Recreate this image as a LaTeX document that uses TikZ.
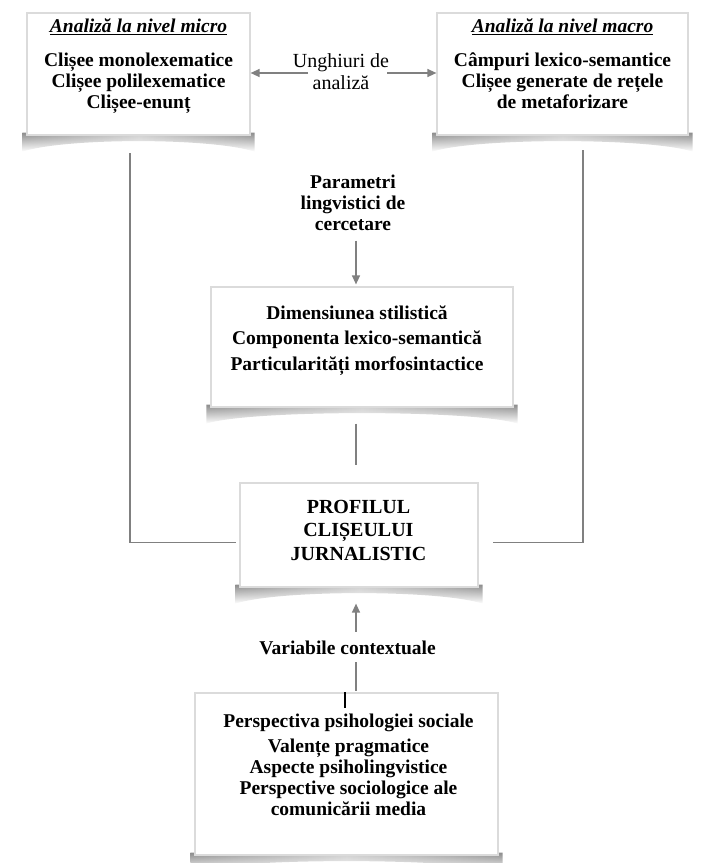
\documentclass[tikz,border=0pt]{standalone}
\usepackage{fontspec}
\setmainfont{Liberation Serif}
\usetikzlibrary{arrows.meta, positioning, calc, backgrounds, fadings}
\definecolor{linegray}{HTML}{808080}

\begin{document}
\begin{tikzpicture}[
    x=1pt, y=-1pt,
    box/.style={rectangle, draw=gray!28, line width=1.2pt, fill=white, inner sep=0pt},
    head/.style={font=\fontsize{19.5}{21}\selectfont\bfseries\itshape, inner sep=0pt},
    item/.style={font=\fontsize{19.5}{21}\selectfont\bfseries, align=center, inner sep=0pt},
    conn/.style={draw=linegray, line width=1.3pt},
    arr/.style={conn, -{Triangle[length=9pt, width=8pt]}},
]
    \useasboundingbox (0,0) rectangle (709,863);
    % Top row: micro / macro analysis
    \node[box, minimum width=223pt, minimum height=122pt] (micro) at (138.5, 74) {};
    \node[head, below=6pt of micro.north] (microhead) {\underline{Analiză la nivel micro}};
    \node[item, below=40pt of micro.north] (microlist) {Clișee monolexematice\\Clișee polilexematice\\Clișee-enunț};
    \node[box, minimum width=251pt, minimum height=122pt] (macro) at (562.5, 74) {};
    \node[head, below=6pt of macro.north] (macrohead) {\underline{Analiză la nivel macro}};
    \node[item, below=40pt of macro.north] (macrolist) {Câmpuri lexico-semantice\\Clișee generate de rețele\\de metaforizare};
    \node[font=\fontsize{20}{22}\selectfont, align=center, inner sep=0pt] (unghi) at (341, 72) {Unghiuri de\\analiză};
    \coordinate (unghiL) at (308, 73);
    \coordinate (unghiR) at (387, 73);
    \draw[arr] (unghiL) -- (micro.east |- unghiL);
    \draw[arr] (unghiR) -- (macro.west |- unghiR);
    % Middle column
    \coordinate (spine) at (356, 0);
    \node[item] (param) at (353, 202.5) {Parametri\\lingvistici de\\cercetare};
    \node[box, minimum width=302pt, minimum height=120pt] (stil) at (362, 347) {};
    \node[item, font=\fontsize{19.5}{25.5}\selectfont\bfseries, below=19pt of stil.north, xshift=-5pt] (stillist) {Dimensiunea stilistică\\Componenta lexico-semantică\\Particularități morfosintactice};
    \node[box, minimum width=238pt, minimum height=104pt] (prof) at (359, 535) {};
    \node[item, font=\fontsize{20}{23.5}\selectfont\bfseries] (proftext) at (358.5, 530) {PROFILUL\\CLIȘEULUI\\JURNALISTIC};
    \node[item] (var) at (347.5, 648) {Variabile contextuale};
    \node[box, minimum width=303pt, minimum height=162pt] (persp) at (346.5, 774) {};
    \node[item, below=21pt of persp.north, xshift=2pt] (persptext) {Perspectiva psihologiei sociale\\[4pt]Valențe pragmatice\\Aspecte psiholingvistice\\Perspective sociologice ale\\comunicării media};
    \coordinate (bar) at (345, 708);
    % Connectors
    \draw[arr, shorten <=10pt, shorten >=2pt] (param.south -| spine) -- (stil.north -| spine);
    \draw[conn, shorten <=16pt, shorten >=17pt] (stil.south -| spine) -- (prof.north -| spine);
    \draw[arr, shorten <=9pt, shorten >=16pt] (var.north -| spine) -- (prof.south -| spine);
    \draw[conn, shorten <=7pt, shorten >=1pt] (var.south -| spine) -- (persp.north -| spine);
    \coordinate (microdrop) at (130, 153);
    \coordinate (macrodrop) at (583, 150);
    \draw[conn] (microdrop) |- ([xshift=-3pt, yshift=-7.5pt]prof.west);
    \draw[conn] (macrodrop) |- ([xshift=14pt, yshift=-7.5pt]prof.east);
    \draw[line width=1.6pt] (persp.north -| bar) -- (bar);
    % Curled shadows under the boxes
    \begin{scope}[on background layer]
        \foreach \b in {micro,macro,stil,prof,persp} {
            \shade[left color=gray!90, right color=gray!90, middle color=gray!40, path fading=south]
                ([xshift=-4pt, yshift=3pt]\b.south west) -- ([xshift=-4pt, yshift=-16pt]\b.south west)
                .. controls ([xshift=40pt, yshift=-2pt]\b.south west) and ([xshift=-40pt, yshift=-2pt]\b.south east)
                .. ([xshift=4pt, yshift=-16pt]\b.south east) -- ([xshift=4pt, yshift=3pt]\b.south east) -- cycle;
        }
    \end{scope}
\end{tikzpicture}
\end{document}
